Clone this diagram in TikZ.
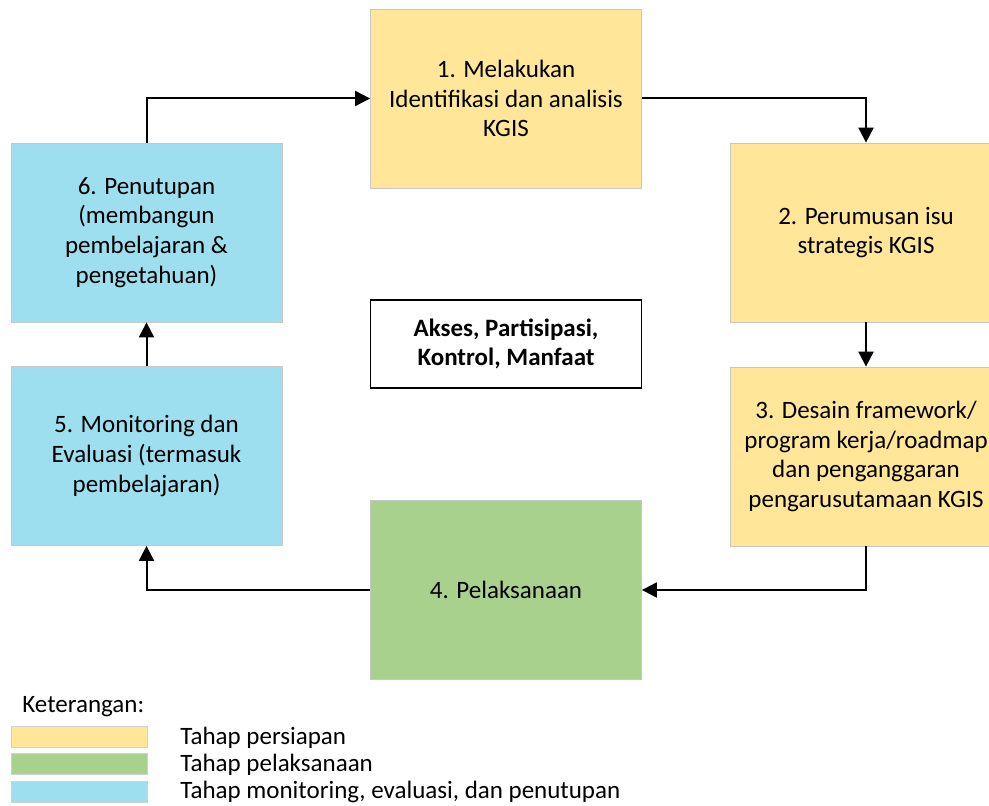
\documentclass[tikz,border=0pt]{standalone}
\usepackage{fontspec}
\setmainfont{Carlito}
\usetikzlibrary{arrows.meta}

\definecolor{prep}{HTML}{FFE699}
\definecolor{impl}{HTML}{A9D18E}
\definecolor{monev}{HTML}{9DDFEF}

\tikzset{
	stage/.style={draw=black!22, minimum width=135.5pt, minimum height=89.5pt, align=center, inner sep=0pt, font=\fontsize{12.5}{14.8}\selectfont},
	swatch/.style={draw=black!18, minimum width=68pt, minimum height=10.5pt, inner sep=0pt},
	legendtext/.style={anchor=west, inner sep=0pt, font=\fontsize{12.5}{14.8}\selectfont},
	flow/.style={line width=1pt, -{Triangle[length=7.5pt,width=7.5pt]}},
}

\begin{document}
\begin{tikzpicture}[x=0.5pt,y=-0.5pt]
			\useasboundingbox (0,0) rectangle (989,806);
			\node[stage, fill=prep] (ident) at (506,98.5) {1. Melakukan\\Identifikasi dan analisis\\KGIS};
			\node[stage, fill=prep] (issue) at (866,232.5) {2. Perumusan isu\\strategis KGIS};
			\node[stage, fill=prep] (design) at (866,456.5) {3. Desain framework/\\program kerja/roadmap\\dan penganggaran\\pengarusutamaan KGIS};
			\node[stage, fill=impl] (exec) at (506,590) {4. Pelaksanaan};
			\node[stage, fill=monev] (monev) at (146.5,456) {5. Monitoring dan\\Evaluasi (termasuk\\pembelajaran)};
			\node[stage, fill=monev] (closing) at (146.5,232.5) {6. Penutupan\\(membangun\\pembelajaran \&\\pengetahuan)};
			\node[stage, draw=black, line width=0.75pt, minimum height=44pt, font=\fontsize{12.5}{14.8}\selectfont\bfseries] (center) at (506,344) {Akses, Partisipasi,\\Kontrol, Manfaat};
			\draw[flow] (closing.north) |- (ident.west);
			\draw[flow] (ident.east) -| (issue.north);
			\draw[flow] (issue) -- (design);
			\draw[flow] (design.south) |- (exec.east);
			\draw[flow] (exec.west) -| (monev.south);
			\draw[flow] (monev) -- (closing);
			\node[legendtext] (legend) at (22,707) {Keterangan:};
			\node[swatch, fill=prep] (sw1) at (79,737) {};
			\node[swatch, fill=impl] (sw2) at (79,764) {};
			\node[swatch, fill=monev] (sw3) at (79,792) {};
			\node[legendtext] (lt1) at (180,738) {Tahap persiapan};
			\node[legendtext] (lt2) at (180,765) {Tahap pelaksanaan};
			\node[legendtext] (lt3) at (180,792) {Tahap monitoring, evaluasi, dan penutupan};
		\end{tikzpicture}
\end{document}
